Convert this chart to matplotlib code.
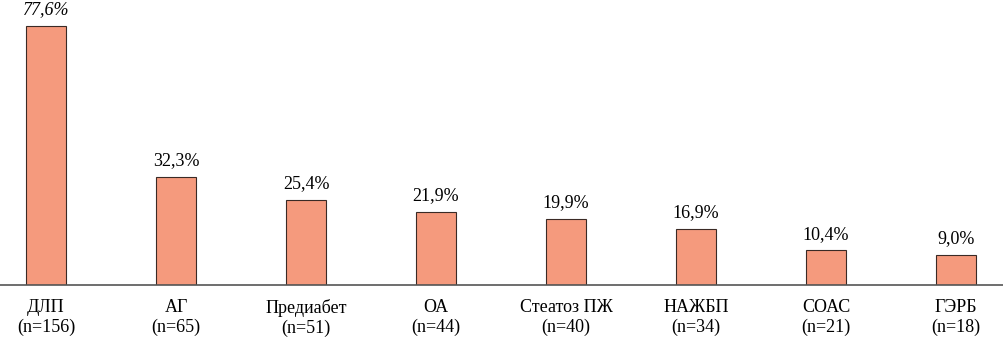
import matplotlib
matplotlib.use("Agg")
import matplotlib.pyplot as plt

categories = ["ДЛП", "АГ", "Предиабет", "ОА", "Стеатоз ПЖ", "НАЖБП", "СОАС", "ГЭРБ"]
counts = [156, 65, 51, 44, 40, 34, 21, 18]
percents = [77.6, 32.3, 25.4, 21.9, 19.9, 16.9, 10.4, 9.0]

plt.rcParams["font.family"] = ["Liberation Serif", "DejaVu Serif"]

fig = plt.figure(figsize=(10.04, 3.38), dpi=100)
ax = fig.add_axes([0, 53 / 338, 1, 285 / 338])

x = list(range(len(categories)))
ax.bar(x, percents, width=0.308, color="#F59A7D", edgecolor="#3a2a25", linewidth=0.8, zorder=2)

for i, p in enumerate(percents):
    label = f"{p:.1f}%".replace(".", ",")
    ax.annotate(label, (i, p), xytext=(0, 5.5), textcoords="offset points",
                ha="center", va="bottom", fontsize=13,
                style="italic" if i == 0 else "normal")

ax.set_xlim(-0.354, 7.369)
ax.set_ylim(0, 85.3)
ax.set_xticks(x)
ax.set_xticklabels([f"{c}\n(n={n})" for c, n in zip(categories, counts)],
                   fontsize=13, linespacing=1.2)
ax.tick_params(axis="x", length=0, pad=10)
ax.set_yticks([])
for side in ["top", "left", "right"]:
    ax.spines[side].set_visible(False)
ax.spines["bottom"].set_color("#555555")
ax.spines["bottom"].set_linewidth(1.2)
ax.patch.set_alpha(0)

fig.savefig("out.png", dpi=100)
